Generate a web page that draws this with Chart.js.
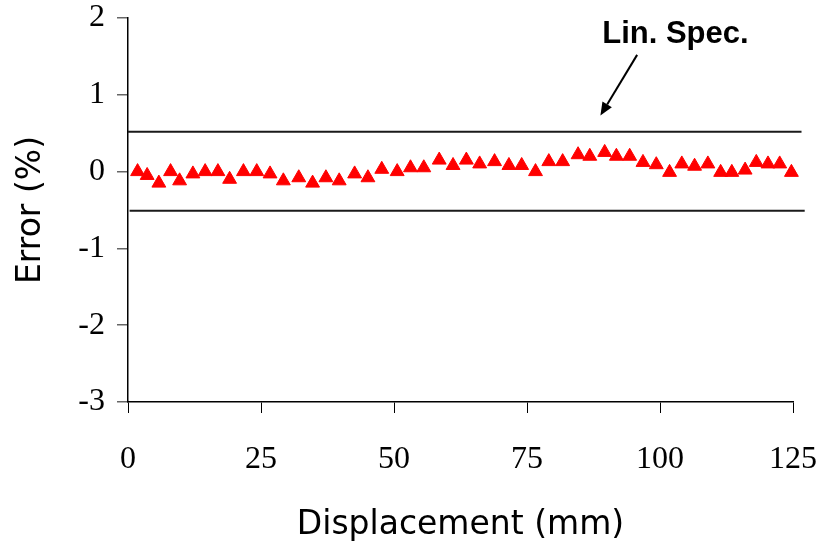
<!DOCTYPE html>
<html lang="en">
<head>
    <meta charset="UTF-8">
    <script src="https://cdn.jsdelivr.net/npm/chart.js"></script>
    <title>Linearity error</title>
    <style>
        body {
            margin: 0;
            background: #fff;
        }
        #wrap {
            width: 832px;
            height: 547px;
        }
    </style>
</head>
<body>
<div id="wrap"><canvas id="myChart"></canvas></div>
<script>
    // displacement (mm) and error (%)
    const displacement = [1.8, 3.6, 5.8, 8.0, 9.7, 12.2, 14.5, 16.9, 19.1, 21.7, 24.2, 26.7, 29.2, 32.1, 34.7, 37.2, 39.7, 42.6,
        45.1, 47.7, 50.6, 53.1, 55.6, 58.5, 61.1, 63.6, 66.1, 68.9, 71.6, 74.0, 76.6, 79.1, 81.7,
        84.6, 86.8, 89.6, 91.8, 94.3, 96.8, 99.3, 101.8, 104.1, 106.5, 109.0, 111.4, 113.5, 116.0, 118.1, 120.3, 122.5, 124.7];
    const errorPct = [0.0, -0.05, -0.15, 0.0, -0.12, -0.03, 0.0, 0.0, -0.10, 0.0, 0.0, -0.03, -0.12, -0.08, -0.15, -0.08, -0.12, -0.03,
        -0.08, 0.03, 0.0, 0.05, 0.05, 0.15, 0.08, 0.15, 0.10, 0.13, 0.08, 0.08, 0.0, 0.13, 0.13,
        0.22, 0.20, 0.25, 0.20, 0.20, 0.12, 0.09, -0.01, 0.10, 0.07, 0.10, -0.01, -0.01, 0.02, 0.12, 0.10, 0.10, -0.01];

    // linearity spec limits
    const specUpperX = [0, 126.6];
    const specUpperY = [0.52, 0.52];
    const specLowerX = [0.3, 127.2];
    const specLowerY = [-0.51, -0.51];

    const xTicks = [0, 25, 50, 75, 100, 125];
    const yTicks = [-3, -2, -1, 0, 1, 2];

    const noteText = 'Lin. Spec.';
    const noteAt = {x: 102.9, y: 1.68};
    const arrowFrom = {x: 95.7, y: 1.52};
    const arrowTo = {x: 88.8, y: 0.73};

    function pairs(xs, ys) {
        return xs.map((x, i) => ({x: x, y: ys[i]}));
    }

    const notePlugin = {
        id: 'note',
        afterDatasetsDraw(chart) {
            const ctx = chart.ctx;
            const sx = chart.scales.x, sy = chart.scales.y;
            ctx.save();
            ctx.fillStyle = '#000';
            ctx.font = 'bold 31px "Liberation Sans", Arial, sans-serif';
            ctx.textAlign = 'center';
            ctx.textBaseline = 'alphabetic';
            ctx.fillText(noteText, sx.getPixelForValue(noteAt.x), sy.getPixelForValue(noteAt.y));

            const x1 = sx.getPixelForValue(arrowFrom.x), y1 = sy.getPixelForValue(arrowFrom.y);
            const x2 = sx.getPixelForValue(arrowTo.x), y2 = sy.getPixelForValue(arrowTo.y);
            const ang = Math.atan2(y2 - y1, x2 - x1);
            const headLen = 13, headW = 5.5;
            const bx = x2 - headLen * Math.cos(ang), by = y2 - headLen * Math.sin(ang);
            ctx.strokeStyle = '#000';
            ctx.lineWidth = 2;
            ctx.beginPath();
            ctx.moveTo(x1, y1);
            ctx.lineTo(bx, by);
            ctx.stroke();
            ctx.beginPath();
            ctx.moveTo(x2, y2);
            ctx.lineTo(bx + headW * Math.sin(ang), by - headW * Math.cos(ang));
            ctx.lineTo(bx - headW * Math.sin(ang), by + headW * Math.cos(ang));
            ctx.closePath();
            ctx.fill();
            ctx.restore();
        }
    };

    const specLine = {
        type: 'line',
        borderColor: '#1a1a1a',
        borderWidth: 2,
        pointRadius: 0,
        fill: false,
        clip: false
    };

    new Chart(document.getElementById('myChart'), {
        type: 'scatter',
        data: {
            datasets: [
                Object.assign({data: pairs(specUpperX, specUpperY)}, specLine),
                Object.assign({data: pairs(specLowerX, specLowerY)}, specLine),
                {
                    data: pairs(displacement, errorPct),
                    pointStyle: 'triangle',
                    pointRadius: 8,
                    backgroundColor: '#ff0000',
                    borderColor: '#ff0000',
                    borderWidth: 1,
                    clip: false
                }
            ]
        },
        options: {
            responsive: true,
            maintainAspectRatio: false,
            animation: false,
            layout: {padding: {left: 0, top: 18, right: 39, bottom: 0}},
            plugins: {
                legend: {display: false},
                tooltip: {enabled: false}
            },
            scales: {
                x: {
                    type: 'linear',
                    min: xTicks[0],
                    max: xTicks[xTicks.length - 1],
                    afterFit(scale) {
                        scale.height = 145;
                        scale.paddingLeft = 0;
                        scale.paddingRight = 0;
                    },
                    afterBuildTicks(scale) { scale.ticks = xTicks.map(v => ({value: v})); },
                    grid: {drawOnChartArea: false, drawTicks: true, tickLength: 11, color: '#000', lineWidth: 1},
                    border: {color: '#000', width: 1.5},
                    ticks: {
                        padding: 27,
                        color: '#000',
                        maxRotation: 0,
                        font: {family: '"Liberation Serif", "Times New Roman", serif', size: 32}
                    },
                    title: {
                        display: true,
                        text: 'Displacement (mm)',
                        color: '#000',
                        padding: {top: 0, bottom: 2},
                        font: {family: '"DejaVu Sans", Verdana, sans-serif', size: 33}
                    }
                },
                y: {
                    type: 'linear',
                    min: yTicks[0],
                    max: yTicks[yTicks.length - 1],
                    afterFit(scale) {
                        scale.width = 128;
                        scale.paddingTop = 0;
                        scale.paddingBottom = 0;
                    },
                    afterBuildTicks(scale) { scale.ticks = yTicks.map(v => ({value: v})); },
                    grid: {drawOnChartArea: false, drawTicks: true, tickLength: 11, color: '#666', lineWidth: 1.5},
                    border: {color: '#000', width: 1.5},
                    ticks: {
                        padding: 12,
                        color: '#000',
                        font: {family: '"Liberation Serif", "Times New Roman", serif', size: 32}
                    },
                    title: {
                        display: true,
                        text: 'Error (%)',
                        color: '#000',
                        padding: {top: 12, bottom: 0},
                        font: {family: '"DejaVu Sans", Verdana, sans-serif', size: 33}
                    }
                }
            }
        },
        plugins: [notePlugin]
    });
</script>
</body>
</html>
